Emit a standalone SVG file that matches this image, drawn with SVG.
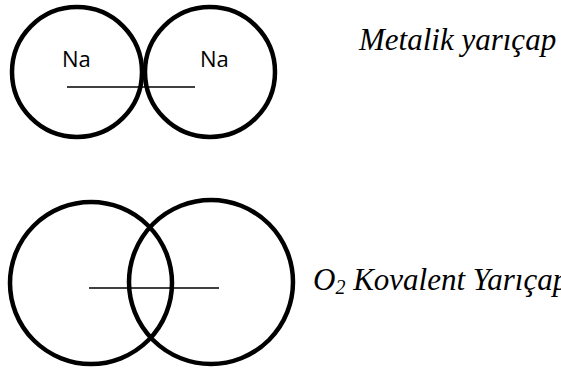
<svg xmlns="http://www.w3.org/2000/svg" width="561" height="370" viewBox="0 0 561 370">
<style>
.atom{fill:none;stroke:#000;stroke-width:4.5}
.rad{stroke:#000;stroke-width:1.5}
.el{font-family:"Open Sans","Noto Sans",sans-serif;font-size:22px;fill:#000}
.lbl{font-family:"Liberation Serif","Times New Roman",serif;font-style:italic;font-size:31px;fill:#000}
</style>
<rect width="561" height="370" fill="#fff"/>
<g id="na1"><circle class="atom" cx="77" cy="72" r="65"/><text class="el" x="62" y="67">Na</text></g>
<g id="na2"><circle class="atom" cx="210" cy="72" r="65"/><text class="el" x="200" y="67">Na</text></g>
<g id="o1"><circle class="atom" cx="91" cy="283" r="81"/></g>
<g id="o2"><circle class="atom" cx="211" cy="282" r="82"/></g>
<g id="connectors">
<line class="rad" x1="67" y1="87" x2="195" y2="87"/>
<line class="rad" x1="89" y1="288" x2="219" y2="288"/>
</g>
<g id="labels">
<text class="lbl" x="359" y="50">Metalik yarıçap</text>
<text class="lbl" x="313" y="290">O<tspan font-size="20" dy="4">2</tspan><tspan dy="-4"> Kovalent Yarıçap</tspan></text>
</g>
</svg>
